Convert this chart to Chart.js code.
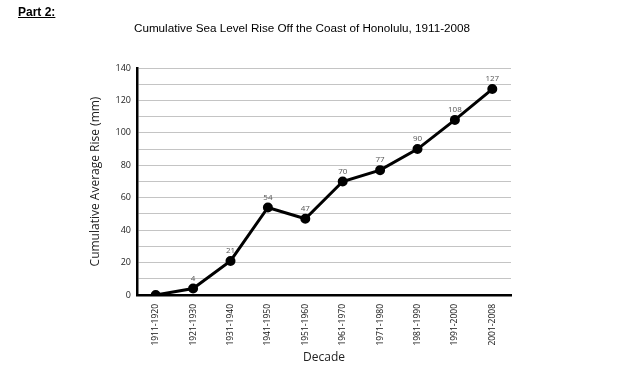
<!DOCTYPE html>
<html>
<head>
<meta charset="utf-8">
<script src="https://cdn.jsdelivr.net/npm/chart.js@4"></script>
<style>
  body { margin: 0; background: #fff; }
  #wrap { position: relative; width: 619px; height: 377px; }
  #part { position: absolute; left: 18px; top: 5px; font: bold 12px "Liberation Sans", Arial, sans-serif; text-decoration: underline; }
  #title { position: absolute; left: 0; width: 604px; top: 21px; text-align: center; font: 11.7px "Liberation Sans", Arial, sans-serif; color: #000; }
  canvas { position: absolute; left: 0; top: 0; }
</style>
</head>
<body>
<div id="wrap">
  <canvas id="chart" width="619" height="377"></canvas>
  <div id="part">Part 2:</div>
  <div id="title">Cumulative Sea Level Rise Off the Coast of Honolulu, 1911-2008</div>
</div>
<script>
const decades = ['1911-1920', '1921-1930', '1931-1940', '1941-1950', '1951-1960',
                 '1961-1970', '1971-1980', '1981-1990', '1991-2000', '2001-2008'];
const riseMm = [0, 4, 21, 54, 47, 70, 77, 90, 108, 127];
const labelValues = [null, 4, 21, 54, 47, 70, 77, 90, 108, 127];

const chartFont = '"Open Sans", "DejaVu Sans", sans-serif';

// draws the small value above each point
const valueLabels = {
  id: 'valueLabels',
  afterDatasetsDraw(chart) {
    const ctx = chart.ctx;
    const meta = chart.getDatasetMeta(0);
    ctx.save();
    ctx.font = '8px ' + chartFont;
    ctx.fillStyle = '#555';
    ctx.textAlign = 'center';
    ctx.textBaseline = 'bottom';
    meta.data.forEach((pt, i) => {
      if (labelValues[i] === null) return;
      ctx.fillText(labelValues[i], pt.x, pt.y - 6);
    });
    ctx.restore();
  }
};

new Chart(document.getElementById('chart').getContext('2d'), {
  type: 'line',
  data: {
    labels: decades,
    datasets: [{
      data: riseMm,
      borderColor: '#000',
      backgroundColor: '#000',
      borderWidth: 3,
      pointRadius: 3.5,
      tension: 0
    }]
  },
  options: {
    responsive: false,
    animation: false,
    layout: { padding: { left: 88, right: 108, top: 68, bottom: 12 } },
    plugins: { legend: { display: false }, title: { display: false }, tooltip: { enabled: false } },
    scales: {
      x: {
        offset: true,
        afterFit: s => { s.height = 70; },
        grid: { display: false },
        border: { display: true, color: '#000', width: 2.5 },
        ticks: {
          maxRotation: 90, minRotation: 90,
          color: '#111',
          font: { family: chartFont, size: 8.5 },
          padding: 1
        },
        title: {
          display: true, text: 'Decade', color: '#222',
          font: { family: chartFont, size: 12 },
          padding: { top: 0, bottom: 0 }
        }
      },
      y: {
        min: 0, max: 140,
        afterFit: s => { s.width = 49; },
        grid: { color: '#c4c4c4', lineWidth: 1, drawTicks: false },
        border: { display: true, color: '#000', width: 2.5 },
        ticks: {
          stepSize: 10,
          color: '#222',
          font: { family: chartFont, size: 9 },
          padding: 6,
          callback: v => (v % 20 === 0 ? v : '')
        },
        title: {
          display: true, text: 'Cumulative Average Rise (mm)', color: '#222',
          font: { family: chartFont, size: 12 },
          padding: { top: 0, bottom: 0 }
        }
      }
    }
  },
  plugins: [valueLabels]
});
</script>
</body>
</html>
